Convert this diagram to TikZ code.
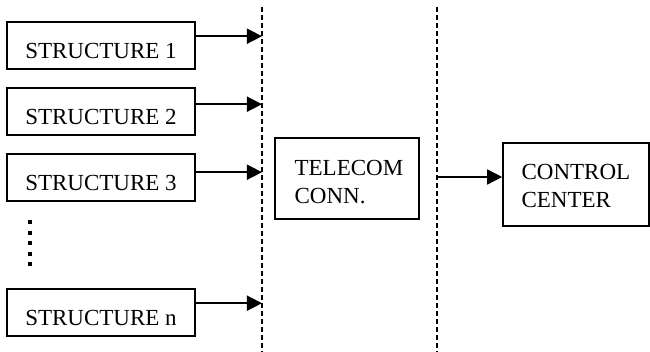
\documentclass[tikz,border=0pt]{standalone}
\usepackage{fontspec}
\setmainfont{Liberation Serif}
\usetikzlibrary{arrows.meta}
\begin{document}
\begin{tikzpicture}[x=0.5pt,y=-0.5pt,
  every node/.style={font=\fontsize{11.5}{14}\selectfont},
  sbox/.style={draw,line width=0.8pt,rectangle,minimum width=94pt,minimum height=23.5pt,inner sep=0pt,text height=13pt,text depth=0pt},
  bigbox/.style={draw,line width=0.8pt,rectangle,inner sep=0pt},
  lbl/.style={anchor=base west,inner sep=0pt},
  arr/.style={line width=0.8pt,-{Triangle[length=7.5pt,width=7.5pt]}},
  sep/.style={line width=1.1pt,dash pattern=on 2.5pt off 1.5pt}]
\useasboundingbox (0,0) rectangle (650,352);
% separators
\coordinate (d1t) at (262,7);
\coordinate (d1b) at (262,352);
\coordinate (d2t) at (437,7);
\coordinate (d2b) at (437,352);
\draw[sep] (d1t) -- (d1b);
\draw[sep] (d2t) -- (d2b);
% structure boxes
\node[sbox] (s1) at (101,45.5) {STRUCTURE 1};
\node[sbox] (s2) at (101,111.5) {STRUCTURE 2};
\node[sbox] (s3) at (101,177.5) {STRUCTURE 3};
\node[sbox] (sn) at (101,312.5) {STRUCTURE n};
% dots
\coordinate (dt) at (30,220);
\coordinate (db) at (30,266);
\draw[line width=2pt,dash pattern=on 2pt off 3.3pt] (dt) -- (db);
% arrows to separator
\draw[arr] ([yshift=-7.5pt]s1.north east) coordinate (a1) -- (a1 -| d1t);
\draw[arr] ([yshift=-8.5pt]s2.north east) coordinate (a2) -- (a2 -| d1t);
\draw[arr] ([yshift=-9.5pt]s3.north east) coordinate (a3) -- (a3 -| d1t);
\draw[arr] ([yshift=-7.5pt]sn.north east) coordinate (an) -- (an -| d1t);
% telecom
\node[bigbox,minimum width=72pt,minimum height=40.5pt] (tc) at (347,178.5) {};
\node[lbl] (tc1) at ([xshift=10pt,yshift=-19pt]tc.north west) {TELECOM};
\node[lbl] (tc2) at ([xshift=10pt,yshift=-33pt]tc.north west) {CONN.};
% control center
\node[bigbox,minimum width=73pt,minimum height=41.5pt] (cc) at (576,184.5) {};
\node[lbl] (cc1) at ([xshift=9.5pt,yshift=-18.5pt]cc.north west) {CONTROL};
\node[lbl] (cc2) at ([xshift=9.5pt,yshift=-32.5pt]cc.north west) {CENTER};
\draw[arr] (d2t |- 0,177) coordinate (b1) -- (b1 -| cc.west);
\end{tikzpicture}
\end{document}
